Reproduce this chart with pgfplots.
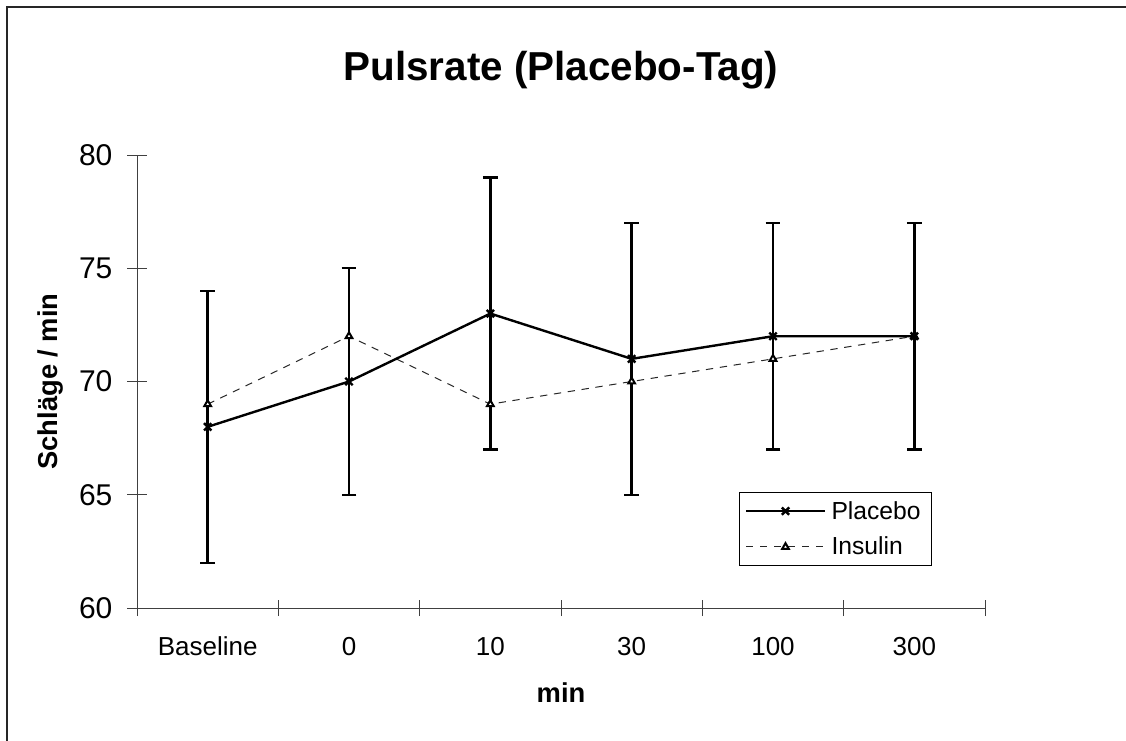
\documentclass[border=0pt]{standalone}
\usepackage{pgfplots}
\pgfplotsset{compat=1.18}
\usepackage{fontspec}
\setmainfont{Liberation Sans}

\begin{document}
\begin{tikzpicture}
\useasboundingbox (0,0) rectangle (844.5pt,-555pt);
\draw[line width=1.5pt, black!85] (5.5pt,-560pt) -- (5.5pt,-5.5pt) -- (850pt,-5.5pt);
\begin{axis}[
  at={(102.75pt,-456pt)}, anchor=south west,
  scale only axis, width=636pt, height=339.75pt,
  xmin=-0.5, xmax=5.5, ymin=60, ymax=80,
  axis x line*=bottom, axis y line*=left,
  ytick={60,65,...,80},
  xtick={0,...,5}, xticklabels={Baseline,0,10,30,100,300},
  minor xtick={-0.5,0.5,...,5.5},
  major x tick style={draw=none},
  tick align=center, major tick length=14.5pt, minor tick length=12pt,
  axis line style={line width=0.75pt, black!75},
  tick style={line width=0.75pt, black!75},
  /pgf/number format/assume math mode=true,
  tick label style={font=\fontsize{19.5}{23}\selectfont, inner sep=0pt},
  yticklabel style={anchor=east, xshift=-11pt, font=\fontsize{22.5}{26}\selectfont},
  xticklabel style={anchor=base, yshift=-28.5pt},
  title={Pulsrate (Placebo-Tag)},
  title style={font=\bfseries\fontsize{30.3}{36}\selectfont, at={(0.5,1)}, anchor=base, yshift=50pt, inner sep=0pt},
  ylabel={Schläge / min},
  ylabel style={font=\bfseries\fontsize{20.5}{24}\selectfont, at={(axis description cs:-0.1026,0.5)}, anchor=center, rotate=0},
  xlabel={min},
  xlabel style={font=\bfseries\fontsize{20.5}{24}\selectfont, at={(axis description cs:0.5,0)}, anchor=base, yshift=-71pt, inner sep=0pt},
  legend style={at={(0.7099,0.2561)}, anchor=north west, draw=black, line width=0.75pt,
    font=\fontsize{18.5}{22}\selectfont, inner xsep=4pt, inner ysep=5pt, row sep=9pt,
    nodes={inner xsep=4pt, inner ysep=1.5pt}},
  legend cell align=left,
  reverse legend,
  legend image code/.code={\draw[mark repeat=2,mark phase=2,#1] plot coordinates {(0pt,0pt) (29.6pt,0pt) (59.2pt,0pt)};},
]
\addplot[black!85, line width=0.75pt, dash pattern=on 5.5pt off 5pt,
  mark=triangle*, mark size=2.9pt, mark options={solid, fill=white, draw=black, line width=1.5pt}]
  coordinates {
  (0,69) (1,72) (2,69) (3,70) (4,71) (5,72)
};
\addlegendentry{Insulin}
\addplot[black, line width=1.8pt, mark=x, mark size=3.9pt, mark options={line width=1.8pt, solid},
  error bars/.cd, y dir=both, y explicit,
  error bar style={line width=1.8pt, black},
  error mark options={rotate=90, mark size=5.6pt, line width=1.8pt, black}]
  coordinates {
  (0,68) +- (0,6)
  (1,70) +- (0,5)
  (2,73) +- (0,6)
  (3,71) +- (0,6)
  (4,72) +- (0,5)
  (5,72) +- (0,5)
};
\addlegendentry{Placebo}
\end{axis}
\end{tikzpicture}
\end{document}
